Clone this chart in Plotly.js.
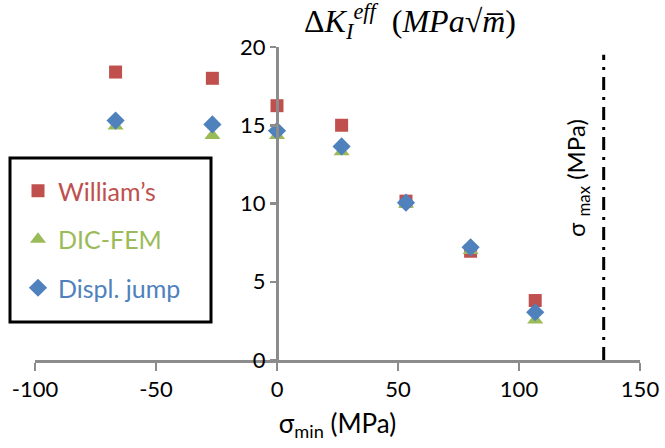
<!DOCTYPE html>
<html>
<head>
<meta charset="utf-8">
<script src="https://cdn.plot.ly/plotly-3.0.1.min.js"></script>
<style>html,body{margin:0;padding:0;background:#fff;}#chart{width:665px;height:448px;}</style>
</head>
<body>
<div id="chart"></div>
<script>
// Data
const sigmaMin = [-66.7, -26.7, 0, 26.7, 53.3, 80, 106.7];
const williams = [18.4, 18.0, 16.25, 15.0, 10.15, 6.95, 3.8];
const dicFem   = [14.95, 14.35, 14.35, 13.3, 9.95, 7.0, 2.55];
const displJump = [15.3, 15.05, 14.65, 13.65, 10.05, 7.2, 3.05];
const sigmaMaxX = [135, 135];
const sigmaMaxY = [0, 19.5];
const seriesNames = ["William’s", "DIC-FEM", "Displ. jump"];
const xTicks = [-100, -50, 0, 50, 100, 150];
const xTickText = ["-100", "-50", "0", "50", "100", "150"];
const yTicks = [0, 5, 10, 15, 20];
const yTickText = ["0", "5", "10", "15", "20"];

const red = '#C0504D', green = '#9BBB59', blue = '#4F81BD';

const traces = [
  {x: sigmaMin, y: williams, mode: 'markers', type: 'scatter', legendgroup: 'a',
   name: '<span style="color:' + red + '">' + seriesNames[0] + '</span>',
   marker: {symbol: 'square', size: 13, color: red}},
  {x: sigmaMin, y: dicFem, mode: 'markers', type: 'scatter', legendgroup: 'b',
   name: '<span style="color:' + green + '">' + seriesNames[1] + '</span>',
   marker: {symbol: 'triangle-up', size: 14, color: green}},
  {x: sigmaMin, y: displJump, mode: 'markers', type: 'scatter', legendgroup: 'c',
   name: '<span style="color:' + blue + '">' + seriesNames[2] + '</span>',
   marker: {symbol: 'diamond', size: 14, color: blue}},
  {x: sigmaMaxX, y: sigmaMaxY, mode: 'lines', type: 'scatter', showlegend: false,
   line: {color: '#000', width: 3, dash: '13px,7px,3px,7px'}, hoverinfo: 'skip'}
];

const W = 665, H = 448, mL = 35, mR = 25, mT = 47, mB = 88;
const pw = W - mL - mR, ph = H - mT - mB;
const px = v => (v - mL) / pw;
const py = v => (H - mB - v) / ph;

const layout = {
  width: W, height: H,
  margin: {l: mL, r: mR, t: mT, b: mB, pad: 0},
  paper_bgcolor: '#fff', plot_bgcolor: '#fff',
  font: {family: 'Lato, "Open Sans", sans-serif', size: 22, color: '#000'},
  showlegend: true,
  legend: {x: px(18), y: py(168), xanchor: 'left', yanchor: 'top',
           bgcolor: 'rgba(0,0,0,0)', borderwidth: 0,
           font: {size: 25}, traceorder: 'grouped', tracegroupgap: 13},
  xaxis: {range: [-100, 150], tickvals: xTicks, ticktext: xTickText, showgrid: false, zeroline: false,
          showline: true, linecolor: '#8c8c8c', linewidth: 2.5,
          ticks: 'outside', ticklen: 8, tickwidth: 2.5, tickcolor: '#8c8c8c',
          tickfont: {size: 22},
          title: {text: 'σ<sub>min</sub> (MPa)', font: {size: 26}, standoff: 14}},
  yaxis: {range: [0, 20], tickvals: yTicks, ticktext: yTickText, showgrid: false, zeroline: false,
          anchor: 'free', position: 0.4,
          showline: true, linecolor: '#8c8c8c', linewidth: 2.5,
          ticks: 'outside', ticklen: 6, tickwidth: 2.5, tickcolor: '#8c8c8c',
          tickfont: {size: 22}},
  shapes: [
    {type: 'rect', xref: 'paper', yref: 'paper', x0: px(10), x1: px(211), y0: py(322), y1: py(158),
     line: {color: '#000', width: 3}, fillcolor: 'rgba(0,0,0,0)'}
  ],
  annotations: [
    {xref: 'paper', yref: 'paper', x: px(410), y: py(21), xanchor: 'center', yanchor: 'middle',
     showarrow: false,
     text: 'Δ<i>K</i><sub><i>I</i></sub><sup><i>eff</i></sup>  (<i>MPa</i>√<i>m̅</i>)',
     font: {family: '"Liberation Serif", "DejaVu Serif", serif', size: 32, color: '#000'}},
    {xref: 'paper', yref: 'paper', x: px(577), y: py(178), xanchor: 'center', yanchor: 'middle',
     showarrow: false, textangle: -90,
     text: 'σ <sub>max</sub> (MPa)', font: {size: 24, color: '#000'}}
  ]
};

Plotly.newPlot('chart', traces, layout, {displayModeBar: false, staticPlot: true});
</script>
</body>
</html>
